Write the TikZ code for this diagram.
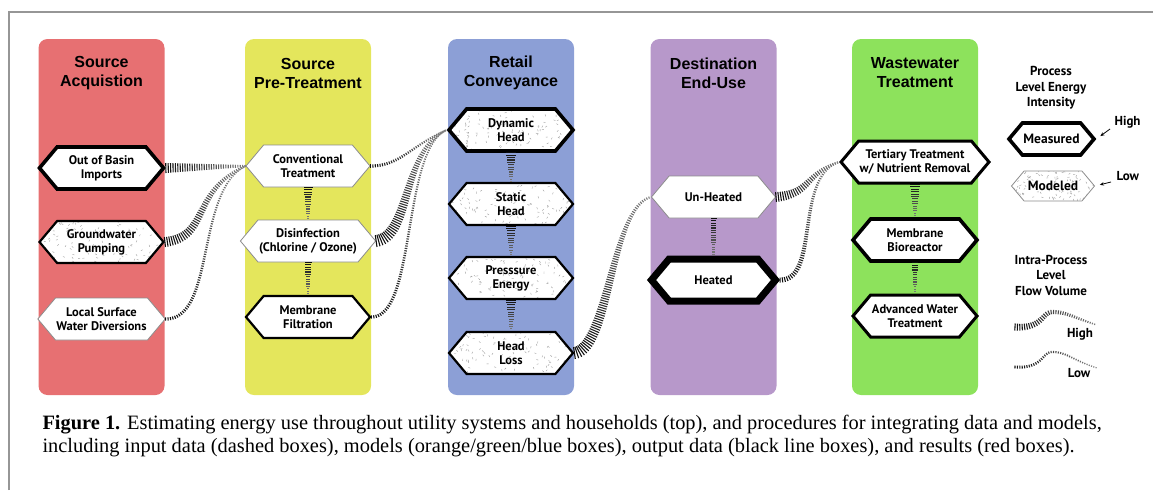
\documentclass[tikz,border=0pt]{standalone}
\usepackage{fontspec}
\setmainfont{Liberation Serif}
\newfontfamily\headfont{Liberation Sans}
\newfontfamily\labelfont{PT Sans}
\newfontfamily\capfont{Liberation Serif}
\usetikzlibrary{arrows.meta, calc, decorations.markings, shapes.symbols}
\definecolor{acqred}{RGB}{231,112,114}
\definecolor{pretyellow}{RGB}{228,230,92}
\definecolor{convblue}{RGB}{140,159,214}
\definecolor{usepurple}{RGB}{183,152,202}
\definecolor{wastegreen}{RGB}{141,226,92}
\definecolor{framegray}{RGB}{150,150,150}

\begin{document}
\begin{tikzpicture}[x=1pt, y=-1pt,
  stage/.style={fill=#1, rounded corners=9pt, minimum width=126, minimum height=356, inner sep=0},
  stagetitle/.style={font=\headfont\bfseries\fontsize{16}{19}\selectfont, align=center},
  proc/.style={signal, signal to=east and west, signal pointer angle=100,
    minimum width=124, minimum height=42, inner sep=1pt, fill=white, align=center,
    font=\labelfont\bfseries\fontsize{12.5}{14}\selectfont, line join=miter},
  lowe/.style={proc, draw=black!45, line width=0.8pt},
  mide/.style={proc, draw=black, line width=2.2pt},
  highe/.style={proc, draw=black, line width=3.6pt},
  peake/.style={proc, draw=black, line width=7pt},
  modeled/.style={path picture={
    \foreach \k in {1,...,110}{
      \pgfmathsetmacro\sx{rnd}\pgfmathsetmacro\sy{rnd}\pgfmathsetmacro\sa{rnd*180}
      \draw[black!38, line width=0.4pt]
        let \p1=(path picture bounding box.south west), \p2=(path picture bounding box.north east)
        in (\x1+\sx*\x2-\sx*\x1, \y1+\sy*\y2-\sy*\y1) -- ++(\sa:2pt);
    }}},
  flow/.style 2 args={
    decoration={markings,
      mark=between positions 0 and 1 step 2.4pt with {
        \pgfmathsetmacro\fr{\pgfkeysvalueof{/pgf/decoration/mark info/distance from start}/\pgfdecoratedpathlength}
        \pgfmathsetmacro\tw{#1+(#2-#1)*\fr}
        \pgfmathsetmacro\pc{95-45*\fr}
        \fill[black!\pc] (-0.55pt,-\tw pt) rectangle (0.55pt,\tw pt);
      }},
    postaction=decorate},
  legtext/.style={font=\labelfont\bfseries\fontsize{13}{15.5}\selectfont, align=center},
  legarr/.style={-{Stealth[length=4pt,width=3.5pt]}, line width=0.8pt}
]
\pgfmathsetseed{7}
\useasboundingbox (0,0) rectangle (1153,490);
\draw[framegray, line width=1.2pt] (9,490) -- (9,12) -- (1153,12);

% stage columns
\node[stage=acqred] (acq) at (101.5,217) {};
\node[stage=pretyellow] (pret) at (308,217) {};
\node[stage=convblue] (conv) at (511,217) {};
\node[stage=usepurple] (enduse) at (713.5,217) {};
\node[stage=wastegreen] (waste) at (915,217) {};
\node[stagetitle] at (101.5,73) {Source\\Acquistion};
\node[stagetitle] at (308,73) {Source\\Pre-Treatment};
\node[stagetitle] at (511,73) {Retail\\Conveyance};
\node[stagetitle] at (713.5,73) {Destination\\End-Use};
\node[stagetitle] at (915,73) {Wastewater\\Treatment};

% processes
\node[highe] (imports) at (101.5,168) {Out of Basin\\Imports};
\node[mide, modeled] (ground) at (101.5,242) {Groundwater\\Pumping};
\node[lowe] (surface) at (101.5,319) {Local Surface\\Water Diversions};
\node[lowe] (conventional) at (308,166) {Conventional\\Treatment};
\node[lowe] (disinf) at (308,241) {Disinfection\\(Chlorine / Ozone)};
\node[mide] (membr) at (308,317) {Membrane\\Filtration};
\node[highe, modeled] (dynamic) at (511,130) {Dynamic\\Head};
\node[mide, modeled] (static) at (511,204) {Static\\Head};
\node[mide, modeled] (press) at (511,278) {Presssure\\Energy};
\node[mide, modeled] (headloss) at (511,353) {Head\\Loss};
\node[lowe] (unheat) at (713.5,197) {Un-Heated};
\node[peake] (heat) at (713.5,280) {Heated};
\node[highe, line width=3pt] (tert) at (915,162) {Tertiary Treatment\\w/ Nutrient Removal};
\node[highe] (bioreac) at (915,240) {Membrane\\Bioreactor};
\node[highe, line width=3pt] (advanced) at (915,316) {Advanced Water\\Treatment};

% flows between stages
\path[flow={5}{1}] (imports.east) -- (conventional.west);
\path[flow={5}{1}] (ground.east) .. controls +(45,-5) and +(-55,25) .. (conventional.west);
\path[flow={1.6}{0.8}] (surface.east) .. controls +(50,0) and +(-50,25) .. (conventional.west);
\path[flow={1.6}{0.8}] (conventional.east) .. controls +(30,0) and +(-35,15) .. (dynamic.west);
\path[flow={6}{1}] (disinf.east) .. controls +(35,-5) and +(-45,20) .. (dynamic.west);
\path[flow={1.6}{0.8}] (membr.east) .. controls +(45,0) and +(-45,20) .. (dynamic.west);
\path[flow={6}{1}] (headloss.east) .. controls +(35,-5) and +(-40,10) .. (unheat.west);
\path[flow={5}{1}] (unheat.east) .. controls +(35,-3) and +(-35,12) .. (tert.west);
\path[flow={2.5}{0.9}] (heat.east) .. controls +(40,0) and +(-45,15) .. (tert.west);

% flows inside stages
\foreach \a/\b/\s/\e in {conventional/disinf/4.5/1, disinf/membr/3.5/1, dynamic/static/5/1,
    static/press/5/1, press/headloss/5/1, unheat/heat/3/1.5, tert/bioreac/5/1, bioreac/advanced/3/1}
  \path[flow={\s}{\e}] (\a.south) -- (\b.north);

% legend
\node[legtext] (legenergy) at (1051,88) {Process\\Level Energy\\Intensity};
\node[highe, minimum width=83, minimum height=32, font=\labelfont\bfseries\fontsize{13.5}{14}\selectfont] (measured) at (1051.5,139) {Measured};
\node[lowe, modeled, minimum width=83, minimum height=30, font=\labelfont\bfseries\fontsize{13.5}{14}\selectfont] (model) at (1053,186) {Modeled};
\node[legtext, anchor=west] (hi) at (1111,122) {High};
\node[legtext, anchor=west] (lo) at (1113,176) {Low};
\coordinate (hiarr) at (1110,129);
\coordinate (loarr) at (1111,182);
\draw[legarr, shorten >=5pt] (hiarr) -- (measured.east);
\draw[legarr, shorten >=5pt] (loarr) -- (model.east);

\node[legtext] (legflow) at (1051,275) {Intra-Process\\Level\\Flow Volume};
\coordinate (hf1) at (1015,327);
\coordinate (hfm) at (1052,312);
\coordinate (hf2) at (1097,325);
\coordinate (lf1) at (1015,367);
\coordinate (lfm) at (1052,352);
\coordinate (lf2) at (1097,368);
\path[flow={3.5}{0.7}] (hf1) .. controls +(28,2) and +(-10,0) .. (hfm) .. controls +(15,0) and +(-25,-8) .. (hf2);
\path[flow={1.5}{0.6}] (lf1) .. controls +(28,2) and +(-10,0) .. (lfm) .. controls +(15,0) and +(-25,-8) .. (lf2);
\node[legtext] (hiflow) at (1080,334) {High};
\node[legtext] (loflow) at (1079,373) {Low};

% caption
\node[anchor=west, align=left, font=\capfont\fontsize{20.4}{22.5}\selectfont] (caption) at (39,436)
  {\textbf{Figure 1.} Estimating energy use throughout utility systems and households (top), and procedures for integrating data and models,\\
   including input data (dashed boxes), models (orange/green/blue boxes), output data (black line boxes), and results (red boxes).};
\end{tikzpicture}
\end{document}
